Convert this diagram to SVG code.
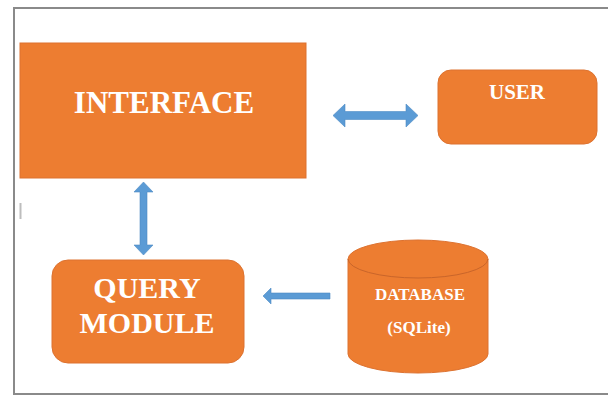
<svg xmlns="http://www.w3.org/2000/svg" width="608" height="396" viewBox="0 0 608 396">
  <style>
    .shape { fill: #ED7D31; stroke: #DD7230; stroke-width: 1; }
    .label { fill: #FFFFFF; font-family: "Liberation Serif", "Times New Roman", serif; font-weight: bold; text-anchor: middle; }
    .arrow { fill: #5B9BD5; stroke: #4F8CC4; stroke-width: 0.6; }
  </style>

  <rect x="0" y="0" width="608" height="396" fill="#FFFFFF"/>

  <!-- page frame -->
  <path d="M608 8 H14 V394 H608" fill="none" stroke="#8A8A8A" stroke-width="2"/>
  <line x1="20.5" y1="203" x2="20.5" y2="219" stroke="#BDBDBD" stroke-width="2"/>

  <g id="interface">
    <rect class="shape" x="20" y="43" width="286" height="135"/>
    <text class="label" x="164" y="113" font-size="31">INTERFACE</text>
  </g>

  <g id="user">
    <rect class="shape" x="438" y="70" width="159" height="74" rx="13" ry="13"/>
    <text class="label" x="517" y="99" font-size="21">USER</text>
  </g>

  <g id="query-module">
    <rect class="shape" x="52" y="260" width="192" height="103" rx="16" ry="16"/>
    <text class="label" x="147" y="298" font-size="30">QUERY</text>
    <text class="label" x="147" y="333" font-size="30">MODULE</text>
  </g>

  <g id="database">
    <path class="shape" d="M348 259 A70 19 0 0 1 488 259 V354 A70 19 0 0 1 348 354 Z"/>
    <path d="M348 259 A70 19 0 0 0 488 259" fill="none" stroke="#C9652A" stroke-width="1"/>
    <text class="label" x="420" y="300" font-size="17">DATABASE</text>
    <text class="label" x="419" y="333" font-size="17">(SQLite)</text>
  </g>

  <g id="connectors">
    <!-- interface <-> user -->
    <path class="arrow" d="M333 115.5 L345 104 V111.5 H406 V104 L418 115.5 L406 127 V119.5 H345 V127 Z"/>
    <!-- interface <-> query module -->
    <path class="arrow" d="M143.5 182 L153 192 H147 V245 H153 L143.5 255 L134 245 H140 V192 H134 Z"/>
    <!-- database -> query module -->
    <path class="arrow" d="M263 296 L271 288 V293 H330 V299 H271 V304 Z"/>
  </g>
</svg>
